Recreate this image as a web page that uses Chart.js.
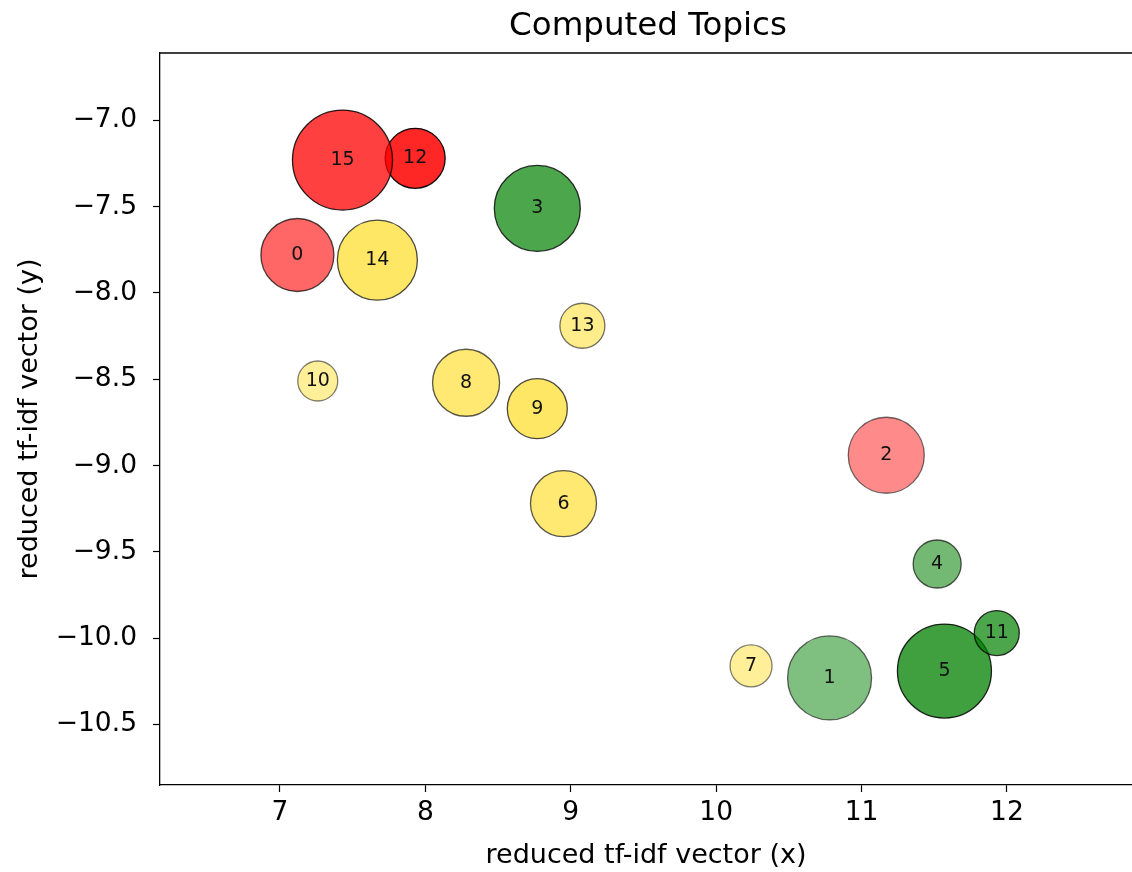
<!doctype html>
<html>
<head>
  <meta charset="utf-8">
  <title>Computed Topics</title>
  <script src="https://cdn.jsdelivr.net/npm/chart.js"></script>
  <style>body{margin:0;background:#fff}#wrap{width:1132px;height:872px;position:relative}</style>
</head>
<body>
  <div id="wrap"><canvas id="chart"></canvas></div>
  <script>
    // topic ids, centres (reduced tf-idf) and bubble radius
    const topics = [0, 1, 2, 3, 4, 5, 6, 7, 8, 9, 10, 11, 12, 13, 14, 15];
    const xs = [7.12, 10.78, 11.17, 8.77, 11.52, 11.57, 8.95, 10.24, 8.28, 8.77, 7.26, 11.93, 7.93, 9.08, 7.67, 7.43];
    const ys = [-7.78, -10.23, -8.94, -7.51, -9.57, -10.19, -9.22, -10.16, -8.52, -8.67, -8.51, -9.97, -7.22, -8.19, -7.81, -7.23];
    const sizes = [36.5, 42, 38, 43, 24, 47, 33, 21, 33.5, 30, 20, 22.5, 30, 22.5, 40, 50];
    const groups = ['red', 'green', 'red', 'green', 'green', 'green', 'yellow', 'yellow', 'yellow', 'yellow', 'yellow', 'green', 'red', 'yellow', 'yellow', 'red'];
    const xTicks = [7, 8, 9, 10, 11, 12];
    const yTicks = [-7.0, -7.5, -8.0, -8.5, -9.0, -9.5, -10.0, -10.5];

    // styling
    const alphas = [0.6, 0.5, 0.46, 0.7, 0.55, 0.75, 0.55, 0.4, 0.55, 0.6, 0.4, 0.7, 0.85, 0.45, 0.6, 0.75];
    const rgb = { red: '255,0,0', green: '0,128,0', yellow: '255,215,0' };
    const fills = groups.map((g, i) => `rgba(${rgb[g]},${alphas[i]})`);
    const edges = alphas.map(a => `rgba(0,0,0,${Math.min(1, a + 0.1)})`);
    const FONT = 'DejaVu Sans';

    const points = topics.map((t, i) => ({ x: xs[i], y: ys[i], r: sizes[i] }));

    // top frame line, and centre the title over the axes (which run a bit past the window)
    const frame = {
      id: 'frame',
      afterLayout(chart) {
        const t = chart.titleBlock;
        if (t) { t.left = chart.chartArea.left; t.right = chart.chartArea.right + 4; }
      },
      afterDraw(chart) {
        const { ctx, chartArea: a } = chart;
        ctx.save();
        ctx.strokeStyle = '#000';
        ctx.lineWidth = 1.3;
        ctx.beginPath();
        ctx.moveTo(a.left, a.top);
        ctx.lineTo(a.right, a.top);
        ctx.stroke();
        ctx.restore();
      }
    };

    const bubbleLabels = {
      id: 'bubbleLabels',
      afterDatasetsDraw(chart) {
        const { ctx } = chart;
        const meta = chart.getDatasetMeta(0);
        ctx.save();
        ctx.font = `19px "${FONT}"`;
        ctx.fillStyle = '#111';
        ctx.textAlign = 'center';
        ctx.textBaseline = 'middle';
        meta.data.forEach((el, i) => ctx.fillText(String(topics[i]), el.x, el.y));
        ctx.restore();
      }
    };

    const ctx = document.getElementById('chart').getContext('2d');
    new Chart(ctx, {
      type: 'bubble',
      data: {
        datasets: [{
          data: points,
          backgroundColor: fills,
          borderColor: edges,
          borderWidth: 1.3,
          hoverRadius: 0,
          hoverBorderWidth: 1.3
        }]
      },
      options: {
        responsive: true,
        maintainAspectRatio: false,
        animation: false,
        events: [],
        layout: { padding: 0, autoPadding: false },
        plugins: {
          legend: { display: false },
          tooltip: { enabled: false },
          title: {
            display: true,
            text: 'Computed Topics',
            color: '#000',
            font: { family: FONT, size: 32.5, weight: 'normal' },
            padding: { top: 7, bottom: 7 }
          }
        },
        scales: {
          x: {
            type: 'linear',
            min: 6.175,
            max: 12.86,
            afterBuildTicks: s => { s.ticks = xTicks.map(v => ({ value: v })); },
            afterFit: s => { s.height = 87; s.paddingLeft = 0; s.paddingRight = 0; },
            grid: { drawOnChartArea: false, tickLength: 7, color: '#000', tickWidth: 1.2 },
            border: { color: '#000', width: 1.3 },
            ticks: { color: '#000', padding: 5, maxRotation: 0, font: { family: FONT, size: 26.5 }, callback: v => String(v) },
            title: { display: true, text: 'reduced tf-idf vector (x)', color: '#000', font: { family: FONT, size: 27 }, padding: { top: 0, bottom: 0 } }
          },
          y: {
            type: 'linear',
            min: -10.85,
            max: -6.61,
            afterBuildTicks: s => { s.ticks = yTicks.map(v => ({ value: v })); },
            afterFit: s => { s.width = 160; s.paddingTop = 0; s.paddingBottom = 0; },
            grid: { drawOnChartArea: false, tickLength: 7, color: '#000', tickWidth: 1.2 },
            border: { color: '#000', width: 1.3 },
            ticks: { color: '#000', padding: 16, font: { family: FONT, size: 26.5 }, callback: v => '\u2212' + Math.abs(v).toFixed(1) },
            title: { display: true, text: 'reduced tf-idf vector (y)', color: '#000', font: { family: FONT, size: 27 }, padding: { top: 14, bottom: 0 } }
          }
        }
      },
      plugins: [frame, bubbleLabels]
    });
  </script>
</body>
</html>
